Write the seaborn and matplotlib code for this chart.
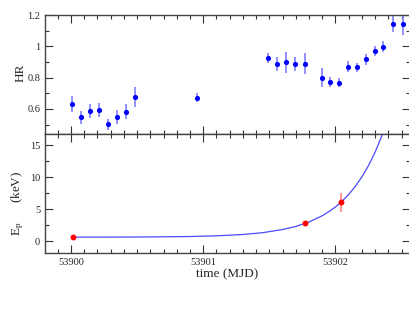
import matplotlib
matplotlib.use("Agg")
import matplotlib.pyplot as plt
import seaborn as sns
import pandas as pd
from matplotlib.ticker import MultipleLocator, FormatStrFormatter, FuncFormatter

# hardness ratio light curve
hr_time = [53900.010, 53900.078, 53900.143, 53900.209, 53900.277, 53900.345,
           53900.413, 53900.481, 53900.953, 53901.492, 53901.560, 53901.628,
           53901.696, 53901.766, 53901.900, 53901.962, 53902.030, 53902.096,
           53902.161, 53902.232, 53902.297, 53902.362, 53902.438, 53902.508]
hr_value = [0.632, 0.546, 0.587, 0.594, 0.501, 0.548, 0.581, 0.675, 0.673,
            0.927, 0.886, 0.897, 0.886, 0.888, 0.800, 0.774, 0.768, 0.871,
            0.865, 0.916, 0.968, 0.998, 1.144, 1.144]
hr_err = [0.050, 0.040, 0.045, 0.047, 0.035, 0.045, 0.048, 0.065, 0.028,
          0.033, 0.045, 0.069, 0.046, 0.067, 0.062, 0.031, 0.030, 0.033,
          0.031, 0.037, 0.033, 0.033, 0.055, 0.070]

# peak energy points
ep_time = [53900.013, 53901.770, 53902.040]
ep_value = [0.60, 2.78, 6.08]
ep_err = [0.15, 0.25, 1.50]

# exponential model curve
curve_time = [53900.01, 53900.30, 53900.60, 53900.90, 53901.10,
              53901.30, 53901.45, 53901.60, 53901.70, 53901.80, 53901.90,
              53901.95, 53902.00, 53902.05, 53902.10, 53902.15, 53902.20,
              53902.25, 53902.30, 53902.35, 53902.40]
curve_value = [0.605, 0.614, 0.638, 0.707, 0.814, 1.025, 1.31, 1.80,
               2.29, 2.98, 3.97, 4.61, 5.35, 6.25, 7.31, 8.57, 10.08, 11.85,
               13.97, 16.49, 19.5]

hr_df = pd.DataFrame({"t": hr_time, "hr": hr_value})
ep_df = pd.DataFrame({"t": ep_time, "ep": ep_value})
curve_df = pd.DataFrame({"t": curve_time, "ep": curve_value})

sns.set_style("ticks")
plt.rcParams["font.family"] = ["Liberation Serif", "DejaVu Serif"]
plt.rcParams["mathtext.fontset"] = "custom"
plt.rcParams["mathtext.rm"] = "Liberation Serif"
plt.rcParams["mathtext.it"] = "Liberation Serif:italic"

fig = plt.figure(figsize=(4.09, 3.16), dpi=100)
left, right = 0.110, 1.003
ax1 = fig.add_axes([left, 0.576, right - left, 0.9525 - 0.576])
ax2 = fig.add_axes([left, 0.199, right - left, 0.576 - 0.199])

blue = "#0000ff"
ax1.errorbar(hr_time, hr_value, yerr=hr_err, fmt="none", ecolor="#7f7fff",
             elinewidth=1.2, capsize=0, zorder=2)
sns.scatterplot(data=hr_df, x="t", y="hr", ax=ax1, color=blue, s=14,
                edgecolor=blue, linewidth=0, zorder=3)

sns.lineplot(data=curve_df, x="t", y="ep", ax=ax2, color="#4a4aff",
             linewidth=0.9, zorder=2)
ax2.errorbar(ep_time, ep_value, yerr=ep_err, fmt="none", ecolor="#ff9a9a",
             elinewidth=1.5, capsize=0, zorder=3)
sns.scatterplot(data=ep_df, x="t", y="ep", ax=ax2, color="#ff0000", s=18,
                linewidth=0, zorder=4)

xlim = (53899.804, 53902.565)
for ax in (ax1, ax2):
    ax.set_xlim(*xlim)
    ax.xaxis.set_major_locator(MultipleLocator(1))
    ax.xaxis.set_minor_locator(MultipleLocator(0.1))
    ax.tick_params(which="both", direction="in", top=True, right=True,
                   labelsize=7.5, color="#333333", width=0.8)
    ax.tick_params(which="major", length=6)
    ax.tick_params(which="minor", length=3)
    for sp in ax.spines.values():
        sp.set_visible(True)
        sp.set_color("#444444")
        sp.set_linewidth(1.0)
    ax.spines["right"].set_visible(False)
    ax.set_xlabel("")

ax1.set_ylim(0.44, 1.2)
ax1.yaxis.set_major_locator(MultipleLocator(0.2))
ax1.yaxis.set_minor_locator(MultipleLocator(0.1))
ax1.yaxis.set_major_formatter(FuncFormatter(lambda v, p: "%g" % round(v, 3)))
ax1.tick_params(labelbottom=False)
ax1.set_ylabel("HR", fontsize=9.5, labelpad=0)
ax1.yaxis.set_label_coords(-0.049, 0.51)

ax2.set_ylim(-1.9, 16.8)
ax2.yaxis.set_major_locator(MultipleLocator(5))
ax2.yaxis.set_minor_locator(MultipleLocator(2.5))
ax2.xaxis.set_major_formatter(FormatStrFormatter("%d"))
ax2.set_ylabel(r"E$_\mathrm{p}$      (keV)", fontsize=9.5, labelpad=0)
ax2.yaxis.set_label_coords(-0.052, 0.42)
ax2.set_xlabel("time (MJD)", fontsize=9.5, labelpad=1)

fig.savefig("out.png", dpi=100)
